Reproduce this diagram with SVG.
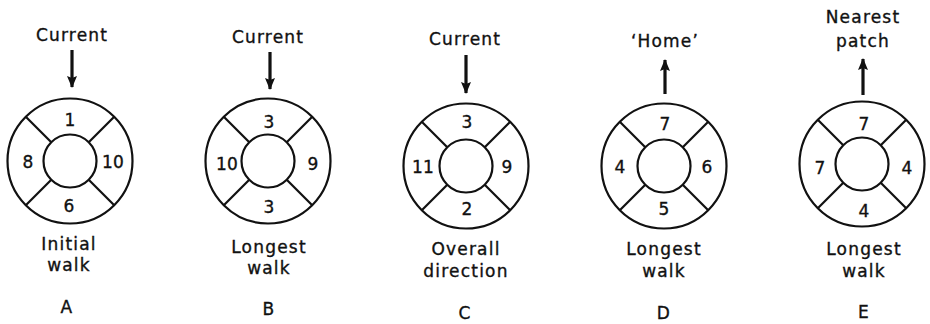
<svg xmlns="http://www.w3.org/2000/svg" width="930" height="324" viewBox="0 0 930 324">
<style>
text{font-family:"DejaVu Sans","Liberation Sans",sans-serif;font-size:17px;fill:#111;stroke:#111;stroke-width:0.35;text-anchor:middle;letter-spacing:1.2px}
.num{letter-spacing:0.3px}
.ring{fill:none;stroke:#111;stroke-width:2.2}
.spoke{stroke:#111;stroke-width:2.2}
.arr{stroke:#111;stroke-width:3.2;fill:none;marker-end:url(#ah)}
</style>
<defs>
<marker id="ah" markerUnits="userSpaceOnUse" markerWidth="12" markerHeight="10" viewBox="0 0 12 10" refX="11" refY="5" orient="auto">
<path d="M0,0 L12,5 L0,10 L2,5 Z" fill="#111"/>
</marker>
<g id="wheel">
<circle class="ring" r="62.5"/>
<circle class="ring" r="26.5"/>
<line class="spoke" x1="-18.7" y1="-18.7" x2="-44.2" y2="-44.2"/>
<line class="spoke" x1="18.7" y1="-18.7" x2="44.2" y2="-44.2"/>
<line class="spoke" x1="-18.7" y1="18.7" x2="-44.2" y2="44.2"/>
<line class="spoke" x1="18.7" y1="18.7" x2="44.2" y2="44.2"/>
</g>
</defs>
<g id="A">
<text x="72" y="41">Current</text>
<use href="#wheel" x="70" y="161"/>
<text class="num" x="70" y="126">1</text>
<text class="num" x="28" y="168">8</text>
<text class="num" x="113" y="168">10</text>
<text class="num" x="69" y="212">6</text>
<text x="69" y="250">Initial</text>
<text x="69" y="271">walk</text>
<text x="67" y="313">A</text>
</g>
<g id="B">
<text x="268" y="43">Current</text>
<use href="#wheel" x="268" y="161"/>
<text class="num" x="269" y="128">3</text>
<text class="num" x="227" y="170">10</text>
<text class="num" x="313" y="170">9</text>
<text class="num" x="269" y="213">3</text>
<text x="269" y="253">Longest</text>
<text x="269" y="274">walk</text>
<text x="269" y="315">B</text>
</g>
<g id="C">
<text x="465" y="45">Current</text>
<use href="#wheel" x="466" y="166"/>
<text class="num" x="467" y="128">3</text>
<text class="num" x="423" y="173">11</text>
<text class="num" x="507" y="173">9</text>
<text class="num" x="467" y="215">2</text>
<text x="466" y="255">Overall</text>
<text x="466" y="277">direction</text>
<text x="465" y="319">C</text>
</g>
<g id="D">
<text x="665" y="47">‘Home’</text>
<use href="#wheel" x="664" y="166"/>
<text class="num" x="665" y="130">7</text>
<text class="num" x="620" y="173">4</text>
<text class="num" x="707" y="173">6</text>
<text class="num" x="664" y="215">5</text>
<text x="664" y="255">Longest</text>
<text x="664" y="277">walk</text>
<text x="664" y="319">D</text>
</g>
<g id="E">
<text x="863" y="23">Nearest</text>
<text x="863" y="47">patch</text>
<use href="#wheel" x="862" y="164"/>
<text class="num" x="864" y="130">7</text>
<text class="num" x="820" y="174">7</text>
<text class="num" x="907" y="174">4</text>
<text class="num" x="864" y="217">4</text>
<text x="864" y="255">Longest</text>
<text x="864" y="277">walk</text>
<text x="864" y="318">E</text>
</g>
<g id="connectors">
<line class="arr" x1="72" y1="50" x2="72" y2="87"/>
<line class="arr" x1="270" y1="52" x2="270" y2="89"/>
<line class="arr" x1="466" y1="55" x2="466" y2="93"/>
<line class="arr" x1="665" y1="94" x2="665" y2="60"/>
<line class="arr" x1="863" y1="95" x2="863" y2="59"/>
</g>
</svg>
